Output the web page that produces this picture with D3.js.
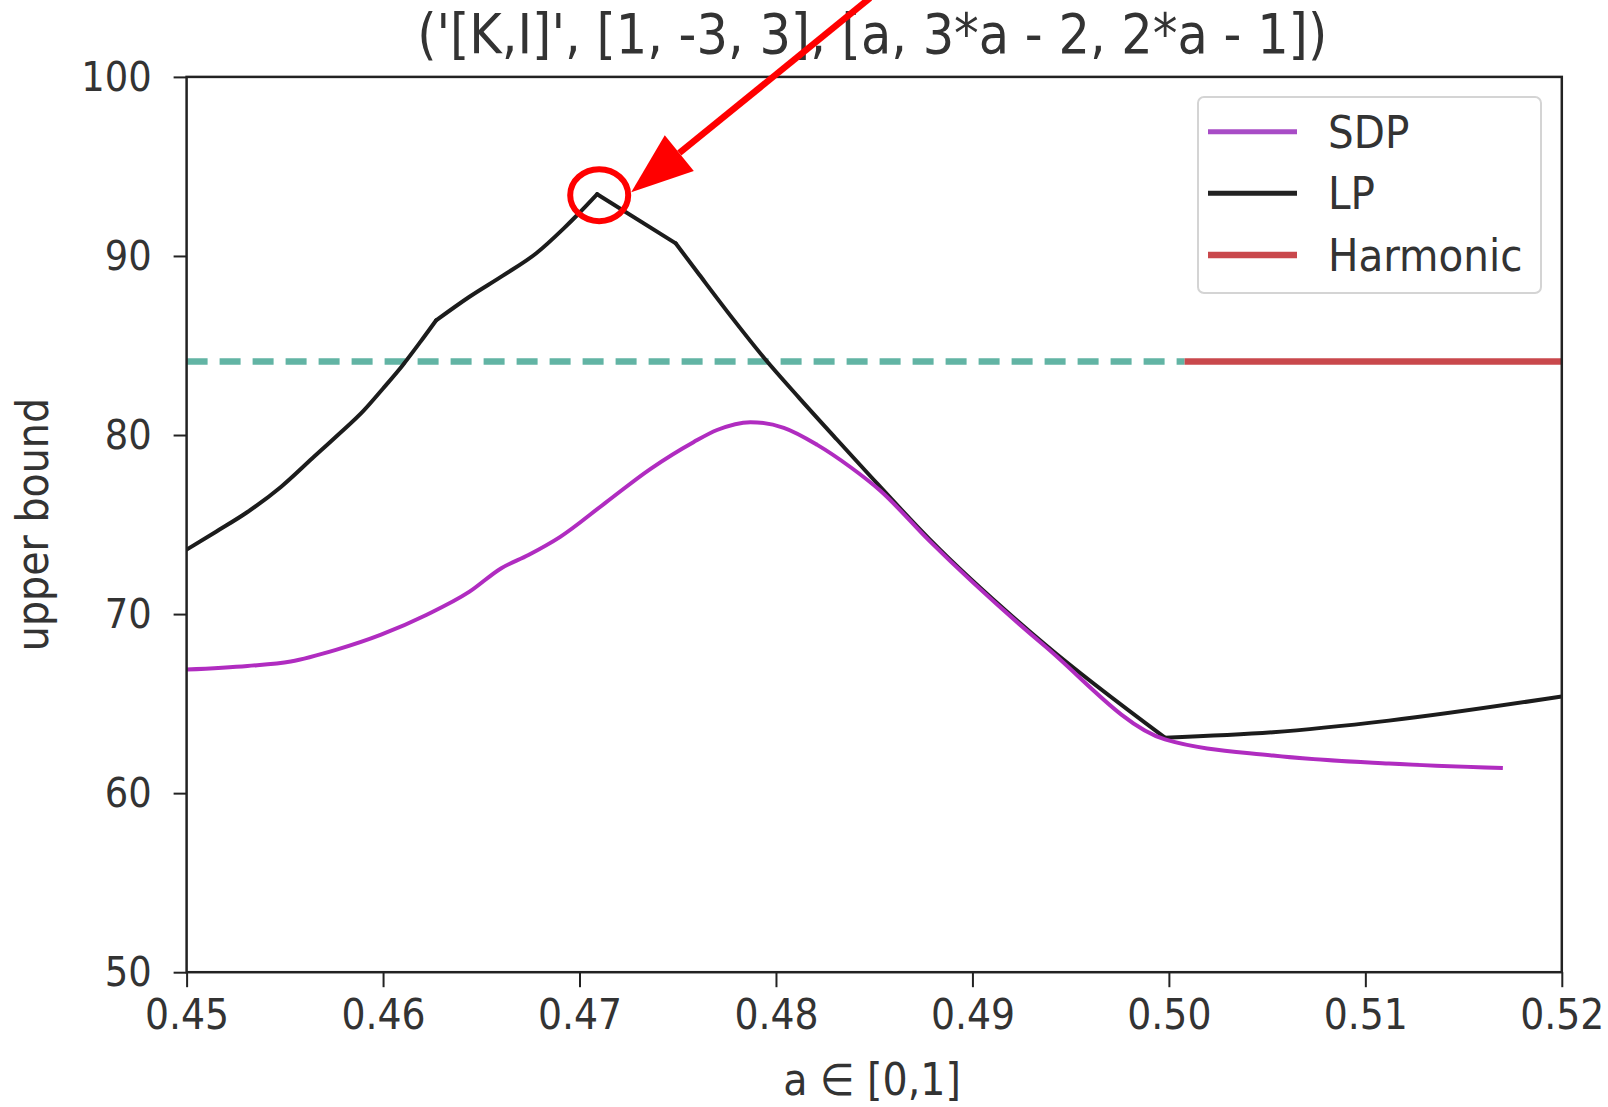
<!DOCTYPE html>
<html>
<head>
<meta charset="utf-8">
<script src="https://cdn.jsdelivr.net/npm/d3@7"></script>
<style>
  html, body { margin: 0; padding: 0; background: #fff; }
  svg { display: block; }
  text { font-family: "DejaVu Sans Condensed", "DejaVu Sans", sans-serif; font-stretch: condensed; fill: #333; }
</style>
</head>
<body>
<svg id="chart" width="1608" height="1107"></svg>
<script>
// ---- data ----
const titleText = "('[K,I]', [1, -3, 3], [a, 3*a - 2, 2*a - 1])";
const xLabel = "a \u2208 [0,1]";
const yLabel = "upper bound";

const xTicks = [0.45, 0.46, 0.47, 0.48, 0.49, 0.50, 0.51, 0.52];
const xTickLabels = ["0.45", "0.46", "0.47", "0.48", "0.49", "0.50", "0.51", "0.52"];
const yTicks = [50, 60, 70, 80, 90, 100];

const lpX = [0.4500, 0.4515, 0.4531, 0.4548, 0.4564, 0.4577, 0.4590, 0.4600, 0.4610, 0.4619, 0.4627,
             0.4644, 0.4661, 0.4678, 0.4692, 0.4699, 0.4709,
             0.4749,
             0.4761, 0.4778, 0.4794, 0.4812, 0.4831, 0.4846, 0.4878, 0.4937, 0.4998,
             0.5053, 0.5112, 0.5200];
const lpY = [73.6, 74.6, 75.7, 77.1, 78.7, 80.0, 81.35, 82.6, 83.9, 85.2, 86.4,
             87.72, 88.9, 90.15, 91.54, 92.3, 93.45,
             90.7,
             88.95, 86.5, 84.3, 82.05, 79.75, 77.95, 74.2, 68.3, 63.1,
             63.4, 64.05, 65.4];
// x positions where the LP curve has a sharp corner
const lpKinks = [0.4627, 0.4709, 0.4749, 0.4998];

const sdpX = [0.4500, 0.4531, 0.4553, 0.4576, 0.4599, 0.4622, 0.4644, 0.4660, 0.4674, 0.4690, 0.4713, 0.4736, 0.4758, 0.4770, 0.4787, 0.4804, 0.4821, 0.4838, 0.4853, 0.4878, 0.4937, 0.4998, 0.5053, 0.5112, 0.5170];
const sdpY = [66.9, 67.1, 67.35, 68.0, 68.85, 69.95, 71.25, 72.55, 73.3, 74.3, 76.2, 78.1, 79.6, 80.28, 80.72, 80.4, 79.45, 78.2, 76.9, 74.1, 68.2, 63.0, 62.1, 61.65, 61.4];

const harmonicX = [0.5008, 0.5200];
const harmonicY = [84.1, 84.1];
const dashedX = [0.4500, 0.5008];
const dashedY = [84.1, 84.1];

const legendNames = ["SDP", "LP", "Harmonic"];
const legendColors = ["#a84cc6", "#222222", "#c9484c"];

// annotation target (peak of LP)
const peakX = 0.4709, peakY = 93.45;

// ---- layout ----
const svg = d3.select("#chart");
const L = 186.6, R = 1561.8, T = 76.9, B = 972.2;

const x = d3.scaleLinear().domain([0.45, 0.52]).range([L, R]);
const y = d3.scaleLinear().domain([50, 100]).range([B, T]);

const defs = svg.append("defs");
defs.append("clipPath").attr("id", "clip")
  .append("rect").attr("x", L).attr("y", T - 5).attr("width", R - L).attr("height", B - T + 10);

const g = svg.append("g").attr("clip-path", "url(#clip)");

const line = d3.line().x(d => x(d[0])).y(d => y(d[1]));
const smooth = d3.line().x(d => x(d[0])).y(d => y(d[1])).curve(d3.curveMonotoneX);

// dashed teal line
g.append("path")
  .datum(d3.zip(dashedX, dashedY))
  .attr("d", line)
  .attr("fill", "none")
  .attr("stroke", "#62b4a4")
  .attr("stroke-width", 6.5)
  .attr("stroke-dasharray", "21,12");

// harmonic red line
g.append("path")
  .datum(d3.zip(harmonicX, harmonicY))
  .attr("d", line)
  .attr("fill", "none")
  .attr("stroke", "#c9484c")
  .attr("stroke-width", 6.5);

// LP: smooth pieces between sharp corners
const lpPts = d3.zip(lpX, lpY);
const bounds = [lpX[0], ...lpKinks, lpX[lpX.length - 1]];
for (let i = 0; i < bounds.length - 1; i++) {
  const seg = lpPts.filter(p => p[0] >= bounds[i] - 1e-9 && p[0] <= bounds[i + 1] + 1e-9);
  g.append("path")
    .datum(seg)
    .attr("d", smooth)
    .attr("fill", "none")
    .attr("stroke", "#1c1c1c")
    .attr("stroke-width", 4)
    .attr("stroke-linecap", "round")
    .attr("stroke-linejoin", "round");
}

// SDP
g.append("path")
  .datum(d3.zip(sdpX, sdpY))
  .attr("d", smooth)
  .attr("fill", "none")
  .attr("stroke", "#b02cc0")
  .attr("stroke-width", 4)
  .attr("stroke-linecap", "butt");

// ---- axes ----
const xAxis = d3.axisBottom(x).tickValues(xTicks).tickFormat((d, i) => xTickLabels[i]).tickSize(15).tickPadding(12);
const gx = svg.append("g").attr("transform", `translate(0,${B})`).call(xAxis);
gx.select(".domain").remove();
gx.selectAll(".tick line").attr("stroke", "#222").attr("stroke-width", 2);
gx.selectAll(".tick text").attr("font-size", 42).attr("fill", "#333")
  .attr("font-family", "'DejaVu Sans Condensed', 'DejaVu Sans', sans-serif");

const yAxis = d3.axisLeft(y).tickValues(yTicks).tickFormat(d3.format("d")).tickSize(13).tickPadding(22);
const gy = svg.append("g").attr("transform", `translate(${L},0)`).call(yAxis);
gy.select(".domain").remove();
gy.selectAll(".tick line").attr("stroke", "#222").attr("stroke-width", 2);
gy.selectAll(".tick text").attr("font-size", 41).attr("fill", "#333")
  .attr("font-family", "'DejaVu Sans Condensed', 'DejaVu Sans', sans-serif");

// frame
svg.append("rect").attr("x", L).attr("y", T).attr("width", R - L).attr("height", B - T)
  .attr("fill", "none").attr("stroke", "#222").attr("stroke-width", 2.5);

// ---- texts ----
svg.append("text").attr("x", (L + R) / 2 - 2).attr("y", 53).attr("text-anchor", "middle")
  .attr("font-size", 55).text(titleText);

svg.append("text").attr("x", 872).attr("y", 1095).attr("text-anchor", "middle")
  .attr("font-size", 44).text(xLabel);

svg.append("text").attr("transform", `translate(48,${(T + B) / 2}) rotate(-90)`)
  .attr("text-anchor", "middle").attr("font-size", 44).text(yLabel);

// ---- legend ----
const lg = svg.append("g");
lg.append("rect").attr("x", 1198).attr("y", 97).attr("width", 343).attr("height", 196)
  .attr("rx", 6).attr("fill", "#fff").attr("fill-opacity", 0.85)
  .attr("stroke", "#d4d4d4").attr("stroke-width", 2);
const rowY = [131.7, 193.3, 255];
legendNames.forEach((name, i) => {
  lg.append("line").attr("x1", 1208).attr("x2", 1297).attr("y1", rowY[i]).attr("y2", rowY[i])
    .attr("stroke", legendColors[i]).attr("stroke-width", i === 2 ? 6.5 : 5);
  lg.append("text").attr("x", 1328).attr("y", rowY[i] + 16).attr("font-size", 45).text(name);
});

// ---- red annotation ----
const cx = x(peakX), cy = y(peakY);
svg.append("ellipse").attr("cx", cx + 2).attr("cy", cy + 1).attr("rx", 29).attr("ry", 26)
  .attr("fill", "none").attr("stroke", "#ff0000").attr("stroke-width", 6);

// arrow from top toward the circle
const tip = [cx + 34, cy - 2];
const start = [870, -2];
const ang = Math.atan2(tip[1] - start[1], tip[0] - start[0]);
const headLen = 62, headW = 23;
const base = [tip[0] - headLen * Math.cos(ang), tip[1] - headLen * Math.sin(ang)];
svg.append("line").attr("x1", start[0]).attr("y1", start[1]).attr("x2", base[0]).attr("y2", base[1])
  .attr("stroke", "#ff0000").attr("stroke-width", 6.5);
const px = -Math.sin(ang), py = Math.cos(ang);
svg.append("polygon")
  .attr("points", [
    tip,
    [base[0] + px * headW, base[1] + py * headW],
    [base[0] - px * headW, base[1] - py * headW]
  ].map(p => p.join(",")).join(" "))
  .attr("fill", "#ff0000");
</script>
</body>
</html>
